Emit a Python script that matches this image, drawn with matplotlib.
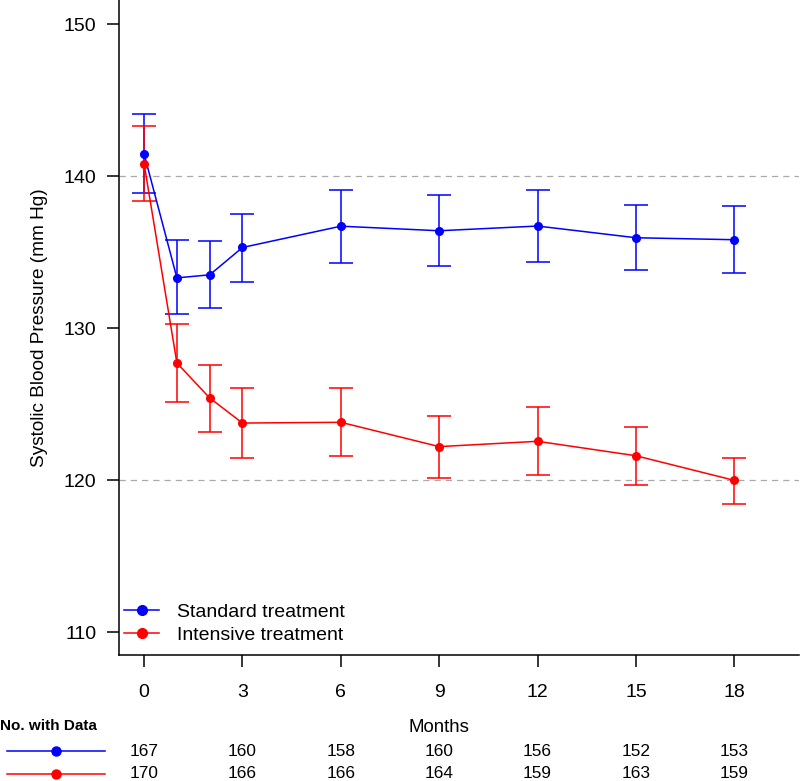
import numpy as np
import matplotlib.pyplot as plt
from matplotlib.lines import Line2D
from matplotlib.transforms import blended_transform_factory

plt.rcParams['font.family'] = ['Liberation Sans', 'DejaVu Sans']

# Data
months = [0, 1, 2, 3, 6, 9, 12, 15, 18]

std_mean = [141.45, 133.3, 133.5, 135.3, 136.7, 136.4, 136.71, 135.94, 135.81]
std_low = [138.9, 130.9, 131.3, 133.0, 134.3, 134.08, 134.36, 133.82, 133.6]
std_high = [144.05, 135.8, 135.75, 137.5, 139.05, 138.73, 139.08, 138.11, 138.05]

int_mean = [140.8, 127.7, 125.4, 123.75, 123.8, 122.2, 122.55, 121.6, 119.98]
int_low = [138.35, 125.15, 123.15, 121.45, 121.6, 120.15, 120.3, 119.7, 118.44]
int_high = [143.3, 130.26, 127.6, 126.07, 126.03, 124.2, 124.8, 123.5, 121.47]

table_months = [0, 3, 6, 9, 12, 15, 18]
std_n = [167, 160, 158, 160, 156, 152, 153]
int_n = [170, 166, 166, 164, 159, 163, 159]

fig = plt.figure(figsize=(8, 7.81), dpi=100)
ax = fig.add_axes([0.149, 0.1613, 0.85, 0.8387])

for mean, lo, hi, col, lab in [(std_mean, std_low, std_high, 'blue', 'Standard treatment'),
                               (int_mean, int_low, int_high, 'red', 'Intensive treatment')]:
    mean = np.array(mean)
    yerr = [mean - np.array(lo), np.array(hi) - mean]
    ax.errorbar(months, mean, yerr=yerr, color=col, lw=1.1, marker='o', ms=5.5,
                capsize=8.5, capthick=1.1, elinewidth=1.1, label=lab)

for yv in [120, 140]:
    ax.axhline(yv, color='#aaaaaa', ls=(0, (5, 4)), lw=0.9, zorder=0)

ax.set_xlim(-0.76, 19.98)
ax.set_ylim(108.49, 151.58)
ax.set_xticks([0, 3, 6, 9, 12, 15, 18])
ax.set_yticks([110, 120, 130, 140, 150])
ax.spines['top'].set_visible(False)
ax.spines['right'].set_visible(False)
ax.tick_params(labelsize=14, length=8.6, width=1.1)
ax.tick_params(axis='x', pad=12)
ax.tick_params(axis='y', pad=8)
ax.spines['left'].set_linewidth(1.1)
ax.spines['bottom'].set_linewidth(1.1)
ax.set_ylabel('Systolic Blood Pressure (mm Hg)', fontsize=13.7, labelpad=11)

handles = [Line2D([], [], color='blue', marker='o', ms=7, lw=1.1),
           Line2D([], [], color='red', marker='o', ms=7, lw=1.1)]
ax.legend(handles, ['Standard treatment', 'Intensive treatment'], loc='lower left',
          bbox_to_anchor=(0.0, 0.009), frameon=False, fontsize=14, handlelength=1.8,
          handletextpad=0.9, borderaxespad=0.0, borderpad=0.25, labelspacing=0.3)

# Number-with-data table below the axis
tr = blended_transform_factory(ax.transData, fig.transFigure)
fig.text(9, 1 - 727 / 781, 'Months', transform=tr, ha='center', va='center', fontsize=13.4)
fig.text(0.0, 1 - 726 / 781, 'No. with Data', ha='left', va='center',
         fontsize=11, fontweight='bold')

for counts, col, ypix in [(std_n, 'blue', 751), (int_n, 'red', 774)]:
    yf = 1 - ypix / 781
    fig.add_artist(Line2D([7 / 800, 105 / 800], [yf, yf], color=col, lw=1.1))
    fig.add_artist(Line2D([56 / 800], [yf], color=col, marker='o', ms=6.5, lw=0))
    for m, n in zip(table_months, counts):
        fig.text(m, yf, str(n), transform=tr, ha='center', va='center', fontsize=12.4)

fig.savefig('out.png', dpi=100)
